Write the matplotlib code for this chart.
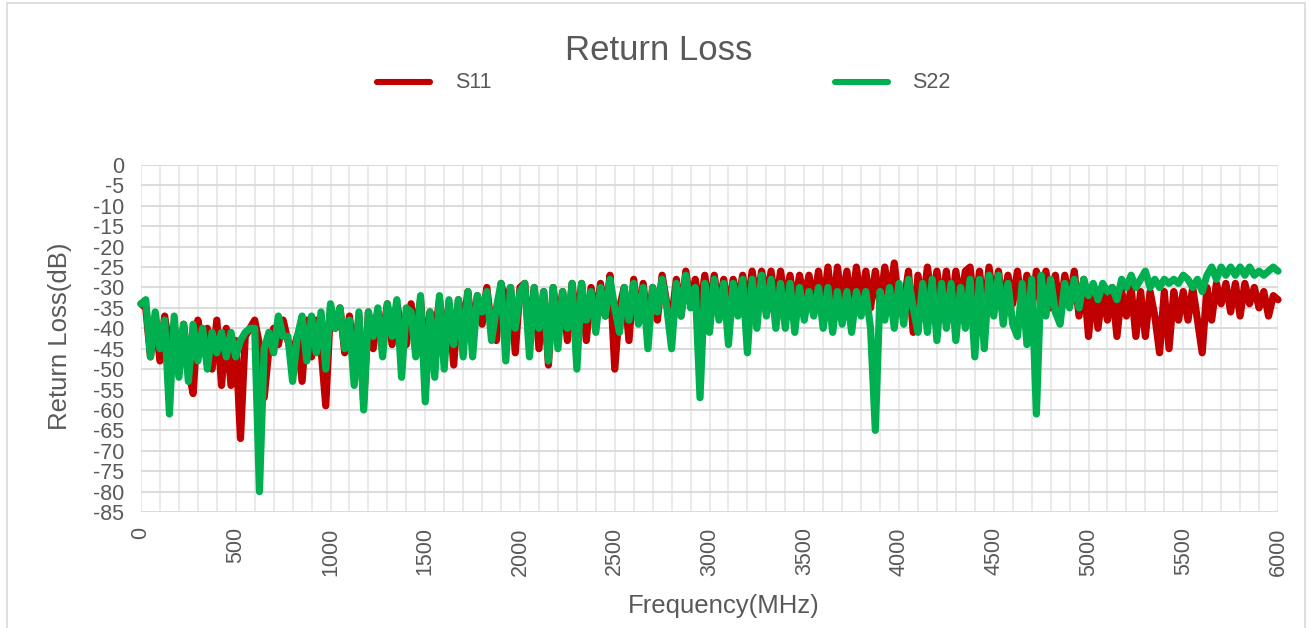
import numpy as np
import matplotlib
matplotlib.use('Agg')
import matplotlib.pyplot as plt
from matplotlib.lines import Line2D
from matplotlib.patches import Rectangle
from matplotlib.ticker import MultipleLocator

# frequency axis: one point every 25 MHz, 0..6000
freq = np.arange(0, 6001, 25)

# S11, one row per 1000 MHz
s11 = [
    -34, -35, -47, -37, -48, -37, -45, -39, -50, -39, -50, -56, -38, -45, -40, -50, -38, -54, -40, -54,
    -43, -67, -42, -40, -38, -44, -57, -45, -40, -44, -38, -43, -46, -42, -53, -38, -47, -38, -45, -59, -35,
    -40, -35, -46, -37, -48, -37, -58, -36, -45, -36, -42, -34, -44, -34, -40, -44, -34, -42, -33, -48,
    -36, -42, -33, -44, -34, -49, -33, -40, -31, -42, -32, -39, -30, -40, -43, -29, -34, -30, -46, -30,
    -29, -44, -30, -45, -31, -49, -30, -40, -31, -43, -29, -40, -29, -43, -30, -38, -29, -37, -27, -50,
    -35, -30, -43, -28, -38, -29, -40, -30, -38, -27, -34, -38, -28, -37, -26, -34, -28, -36, -27, -36,
    -27, -35, -28, -36, -28, -34, -27, -35, -26, -34, -26, -33, -26, -35, -26, -34, -27, -35, -27, -33,
    -27, -34, -26, -35, -25, -36, -25, -34, -26, -35, -25, -34, -26, -35, -26, -34, -25, -33, -24, -34,
    -34, -26, -41, -27, -35, -25, -34, -26, -35, -26, -36, -26, -34, -26, -25, -36, -26, -37, -25, -34,
    -26, -35, -27, -34, -26, -35, -27, -36, -26, -34, -26, -35, -27, -36, -27, -34, -26, -37, -28, -42,
    -30, -40, -31, -38, -30, -42, -31, -37, -30, -42, -31, -42, -31, -37, -46, -31, -45, -31, -38, -31,
    -38, -30, -38, -46, -30, -38, -29, -34, -29, -36, -29, -37, -29, -34, -30, -35, -31, -37, -32, -33,
]

# S22, one row per 1000 MHz
s22 = [
    -34, -33, -47, -36, -45, -38, -61, -37, -52, -39, -53, -39, -48, -40, -50, -41, -46, -41, -47, -41,
    -47, -43, -41, -40, -40, -80, -45, -41, -46, -37, -42, -42, -53, -42, -37, -48, -37, -46, -36, -50, -34,
    -40, -35, -45, -38, -54, -36, -60, -36, -42, -35, -47, -34, -42, -33, -52, -35, -36, -47, -32, -58,
    -36, -52, -32, -50, -33, -44, -33, -47, -31, -47, -32, -36, -31, -43, -35, -29, -48, -30, -40, -31,
    -29, -47, -30, -40, -31, -48, -30, -45, -31, -40, -29, -50, -29, -38, -31, -41, -30, -37, -28, -35,
    -41, -30, -38, -29, -39, -30, -45, -30, -36, -28, -35, -45, -29, -37, -27, -35, -30, -57, -29, -41,
    -28, -38, -29, -44, -29, -37, -28, -46, -28, -40, -27, -37, -28, -40, -29, -40, -29, -41, -30, -38,
    -31, -37, -30, -40, -30, -41, -31, -39, -31, -41, -31, -37, -31, -40, -65, -31, -38, -30, -40, -29,
    -39, -28, -35, -41, -29, -41, -28, -43, -29, -40, -29, -43, -30, -40, -28, -47, -28, -45, -27, -37,
    -27, -39, -29, -39, -42, -29, -44, -28, -61, -27, -37, -28, -36, -39, -29, -35, -28, -35, -28, -32,
    -29, -33, -29, -31, -30, -33, -28, -30, -27, -30, -28, -26, -30, -28, -30, -28, -29, -28, -29, -27,
    -28, -30, -28, -31, -27, -25, -28, -25, -27, -25, -27, -25, -27, -25, -27, -26, -27, -26, -25, -26,
]

series_names = ['S11', 'S22']
series_colors = ['#C00000', '#00B050']

W, H = 1309, 628
text_color = '#595959'

plt.rcParams['font.family'] = ['Liberation Sans', 'DejaVu Sans']
plt.rcParams['axes.unicode_minus'] = False

fig = plt.figure(figsize=(W / 100, H / 100), dpi=100)

# chart area border
fig.add_artist(Rectangle((7 / W, -0.05), (1305 - 7) / W, 1.05 - 3 / H,
                         transform=fig.transFigure, fill=False,
                         edgecolor='#D9D9D9', linewidth=1.2))

ax = fig.add_axes([141 / W, 1 - 512 / H, (1278 - 141) / W, (512 - 165) / H])

for vals, name, col in zip([s11, s22], series_names, series_colors):
    ax.plot(freq, vals, color=col, linewidth=5.2, label=name,
            solid_joinstyle='round', solid_capstyle='round', clip_on=False, zorder=3)

ax.set_xlim(0, 6000)
ax.set_ylim(-85, 0)
ax.xaxis.set_major_locator(MultipleLocator(500))
ax.xaxis.set_minor_locator(MultipleLocator(100))
ax.yaxis.set_major_locator(MultipleLocator(5))

ax.grid(True, axis='x', which='both', color='#E8E8E8', linewidth=1.3, zorder=0)
ax.grid(True, axis='y', which='major', color='#D9D9D9', linewidth=1.3, zorder=0)
ax.set_axisbelow(True)

for s in ax.spines.values():
    s.set_visible(False)

ax.tick_params(axis='both', which='both', length=0, colors=text_color)
ax.tick_params(axis='y', labelsize=15.5, pad=12)
ax.tick_params(axis='x', labelsize=15.5, pad=11, labelrotation=90)

fig.text(60 / W, 1 - 336 / H, 'Return Loss(dB)', rotation=90, ha='center', va='center',
         fontsize=18.5, color=text_color)
fig.text(724 / W, 1 - 606 / H, 'Frequency(MHz)', ha='center', va='center',
         fontsize=18.5, color=text_color)
fig.text(659 / W, 1 - 50 / H, 'Return Loss', ha='center', va='center',
         fontsize=25, color=text_color)

# legend row
for (x0, x1, tx), name, col in zip([(377, 430, 455), (835, 888, 912)], series_names, series_colors):
    fig.add_artist(Line2D([x0 / W, x1 / W], [1 - 82 / H, 1 - 82 / H], transform=fig.transFigure,
                          color=col, linewidth=4.4, solid_capstyle='round'))
    fig.text(tx / W, 1 - 82 / H, name, ha='left', va='center', fontsize=15.5, color=text_color)

fig.savefig('out.png', dpi=100)
